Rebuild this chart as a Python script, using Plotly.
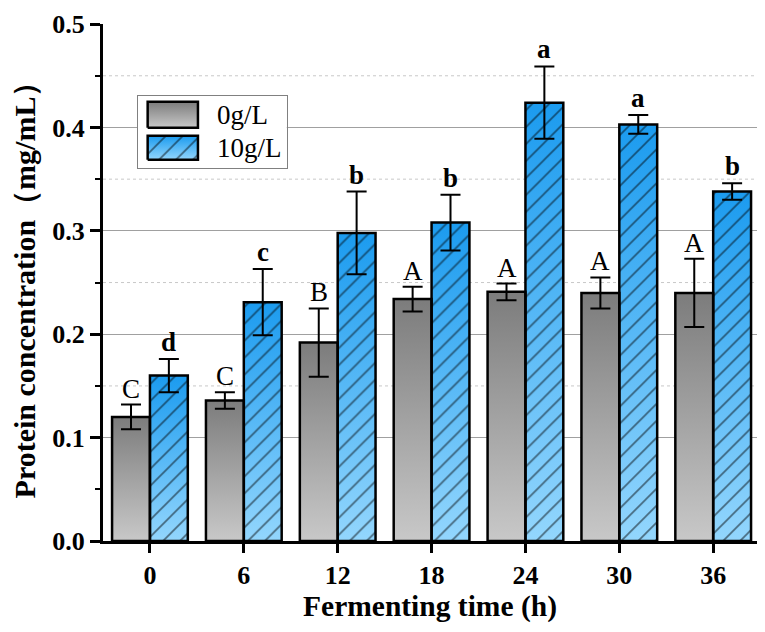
import plotly.graph_objects as go

# 发酵时间与蛋白浓度
hours = [0, 6, 12, 18, 24, 30, 36]
conc_0 = [0.120, 0.136, 0.192, 0.234, 0.241, 0.240, 0.240]
err_0 = [0.012, 0.008, 0.033, 0.012, 0.008, 0.015, 0.033]
conc_10 = [0.160, 0.231, 0.298, 0.308, 0.424, 0.403, 0.338]
err_10 = [0.016, 0.032, 0.040, 0.027, 0.035, 0.009, 0.008]
letters_0 = ["C", "C", "B", "A", "A", "A", "A"]
letters_10 = ["d", "c", "b", "b", "a", "a", "b"]
names = ["0g/L", "10g/L"]
minor_levels = [0.15, 0.25, 0.35, 0.45]

FONT = "Times New Roman, Liberation Serif, serif"
W = 2.42  # bar width in hours
GRAY = ["#c8c8c8", "#7c7c7c"]   # bottom -> top
BLUE = ["#93d6fd", "#1b9bef"]
HATCH = dict(shape="/", fgcolor="black", size=12, solidity=0.14)

fig = go.Figure()

# 渐变填充（每根柱子一个多边形），画在 x/y 上
for vals, cols, side in [(conc_0, GRAY, -1), (conc_10, BLUE, 0)]:
    for h, v in zip(hours, vals):
        x0 = h + side * W
        fig.add_trace(go.Scatter(
            x=[x0, x0, x0 + W, x0 + W, x0], y=[0, v, v, 0, 0],
            mode="none", fill="toself", hoverinfo="skip", showlegend=False,
            fillgradient=dict(type="vertical", colorscale=[[0, cols[0]], [1, cols[1]]]),
        ))

# 柱子边框、斜线与误差线，画在叠加坐标 x2/y2 上（在渐变之上）
fig.add_trace(go.Bar(
    x=hours, y=conc_0, width=W, offset=-W, name=names[0], showlegend=False,
    xaxis="x2", yaxis="y2",
    marker=dict(color="rgba(0,0,0,0)", line=dict(color="black", width=2.5)),
    error_y=dict(type="data", array=err_0, color="black", thickness=2, width=10),
))
fig.add_trace(go.Bar(
    x=hours, y=conc_10, width=W, offset=0, name=names[1], showlegend=False,
    xaxis="x2", yaxis="y2",
    marker=dict(color="rgba(0,0,0,0)", line=dict(color="black", width=2.5), pattern=HATCH),
    error_y=dict(type="data", array=err_10, color="black", thickness=2, width=10),
))

# 显著性字母
for h, v, e, t in zip(hours, conc_0, err_0, letters_0):
    fig.add_annotation(x=h - W / 2, y=v + e, text=t, showarrow=False, yanchor="bottom",
                       yshift=-1, font=dict(family=FONT, size=27, color="black"))
for h, v, e, t in zip(hours, conc_10, err_10, letters_10):
    fig.add_annotation(x=h + W / 2, y=v + e, text="<b>%s</b>" % t, showarrow=False,
                       yanchor="bottom", yshift=0, font=dict(family=FONT, size=27, color="black"))

for lv in minor_levels:
    fig.add_hline(y=lv, line=dict(color="#c8c8c8", width=1, dash="3px,3px"), layer="below")

# 图例：小坐标系 x3/y3 里画大色块
swatches = [(0.556, 0.917, GRAY, None), (0.111, 0.444, BLUE, HATCH)]
for name, (yb, yt, cols, pat) in zip(names, swatches):
    sx = [0.065, 0.065, 0.403, 0.403, 0.065]
    sy = [yb, yt, yt, yb, yb]
    fig.add_trace(go.Scatter(
        x=sx, y=sy, xaxis="x3", yaxis="y3", mode="none", fill="toself",
        hoverinfo="skip", showlegend=False,
        fillgradient=dict(type="vertical", colorscale=[[0, cols[0]], [1, cols[1]]]),
    ))
    fig.add_trace(go.Scatter(
        x=sx, y=sy, xaxis="x3", yaxis="y3", mode="lines", fill="toself",
        fillcolor="rgba(0,0,0,0)", fillpattern=pat if pat else None,
        line=dict(color="black", width=2.5), hoverinfo="skip", showlegend=False,
    ))
    fig.add_annotation(x=0.52, y=(yb + yt) / 2, xref="x3", yref="y3", text=name,
                       showarrow=False, xanchor="left", yanchor="middle",
                       font=dict(family=FONT, size=27, color="black"))

fig.update_layout(
    width=749, height=616,
    margin=dict(l=95, r=0, t=16, b=83),
    plot_bgcolor="white", paper_bgcolor="white",
    barmode="overlay", showlegend=False,
    font=dict(family=FONT, color="black"),
    xaxis=dict(
        range=[-3, 38.8], tickvals=hours, showgrid=False, zeroline=False, automargin=False,
        showline=True, linecolor="black", linewidth=3,
        ticks="outside", ticklen=9, tickwidth=3, tickcolor="black",
        tickfont=dict(family=FONT, size=26, weight="bold"),
        title=dict(text="<b>Fermenting time (h)</b>", font=dict(family=FONT, size=29.5), standoff=7),
    ),
    yaxis=dict(
        range=[0, 0.5001], dtick=0.1, tickformat=".1f", zeroline=False, automargin=False,
        showgrid=True, gridcolor="#a0a0a0", gridwidth=1,
        showline=True, linecolor="black", linewidth=3,
        ticks="outside", ticklen=10, tickwidth=3, tickcolor="black",
        ticklabeloverflow="allow",
        minor=dict(dtick=0.05, ticks="outside", ticklen=5, tickwidth=2, tickcolor="black", showgrid=False),
        tickfont=dict(family=FONT, size=26, weight="bold"),
        title=dict(text="<b>Protein concentration（mg/mL）</b>", font=dict(family=FONT, size=30), standoff=26),
    ),
    xaxis2=dict(overlaying="x", range=[-3, 38.8], visible=False),
    yaxis2=dict(overlaying="y", range=[0, 0.5001], visible=False),
    xaxis3=dict(domain=[0.0535, 0.281], anchor="y3", range=[0, 1], showline=True, mirror=True,
                linecolor="#808080", linewidth=1, showticklabels=False, ticks="",
                showgrid=False, zeroline=False, fixedrange=True),
    yaxis3=dict(domain=[0.722, 0.861], anchor="x3", range=[0, 1], showline=True, mirror=True,
                linecolor="#808080", linewidth=1, showticklabels=False, ticks="",
                showgrid=False, zeroline=False, fixedrange=True),
)

fig.write_html("out.html")
